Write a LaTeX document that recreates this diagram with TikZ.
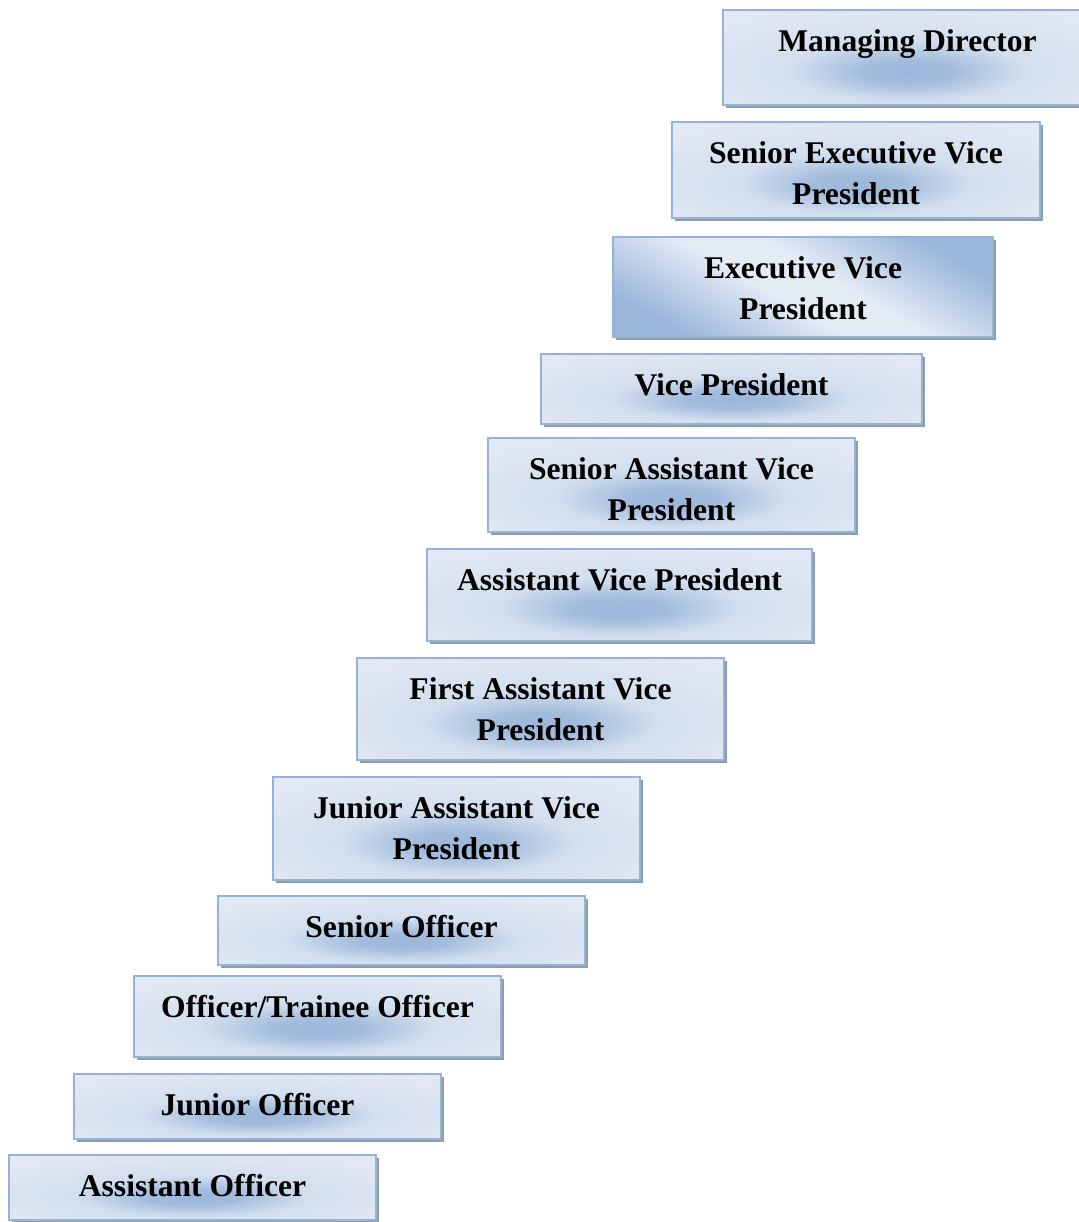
\documentclass[tikz,border=0pt]{standalone}
\usepackage{fontspec}
\setmainfont{Liberation Serif}
\usetikzlibrary{shadows}
\definecolor{edgeblue}{HTML}{95B3D7}
\definecolor{shadowgray}{HTML}{8C9DB2}
\definecolor{lightfill}{HTML}{E9EEF7}
\definecolor{midfill}{HTML}{D3DFEE}
\definecolor{corefill}{HTML}{9AB6DA}
\pgfdeclareradialshading{boxshade}{\pgfpoint{0bp}{-8bp}}{%
  color(0bp)=(corefill); color(6bp)=(corefill!85!midfill); color(16bp)=(midfill);
  color(32bp)=(lightfill!60!midfill); color(50bp)=(lightfill); color(100bp)=(lightfill)}
\pgfdeclarehorizontalshading{diagshade}{100bp}{%
  color(0bp)=(corefill); color(25bp)=(corefill); color(45bp)=(lightfill!80!midfill);
  color(55bp)=(lightfill!80!midfill); color(75bp)=(corefill); color(100bp)=(corefill)}
\tikzset{
  stepbox/.style={draw=edgeblue, line width=1pt, shading=boxshade, inner sep=0pt,
    drop shadow={shadow xshift=1.5pt, shadow yshift=-1.5pt, fill=shadowgray, opacity=1}},
  diagbox/.style={stepbox, shading=diagshade, shading angle=60},
  steptext/.style={font=\fontsize{15.8}{20.5}\selectfont\bfseries, align=center,
    anchor=base, yshift=-21pt, inner sep=0pt},
  oneline/.style={},
  twoline/.style={yshift=-20.5pt}
}
\newcommand{\mkbox}[8]{%
  \node[#1, minimum width={(#6-#4)*0.5pt}, minimum height={(#7-#5)*0.5pt}]
    (#3) at ({(#4+#6)/2},{(#5+#7)/2}) {};
  \node[steptext, #2] (#3t) at (#3.north) {#8};
}
\begin{document}
\begin{tikzpicture}[x=0.5pt,y=-0.5pt]
\useasboundingbox (0,0) rectangle (1078,1222);
\mkbox{stepbox}{oneline}{md}{723}{10}{1092}{105}{Managing Director}
\mkbox{stepbox}{twoline}{sevp}{672}{122}{1040}{218}{Senior Executive Vice\\President}
\mkbox{diagbox}{twoline}{evp}{613}{237}{993}{337}{Executive Vice\\President}
\mkbox{stepbox}{oneline}{vp}{541}{354}{922}{424}{Vice President}
\mkbox{stepbox}{twoline}{savp}{488}{438}{855}{532}{Senior Assistant Vice\\President}
\mkbox{stepbox}{oneline}{avp}{427}{549}{812}{641}{Assistant Vice President}
\mkbox{stepbox}{twoline}{favp}{357}{658}{724}{760}{First Assistant Vice\\President}
\mkbox{stepbox}{twoline}{javp}{273}{777}{640}{880}{Junior Assistant Vice\\President}
\mkbox{stepbox}{oneline}{so}{218}{896}{585}{965}{Senior Officer}
\mkbox{stepbox}{oneline}{oto}{134}{976}{501}{1057}{Officer/Trainee Officer}
\mkbox{stepbox}{oneline}{jo}{74}{1074}{441}{1139}{Junior Officer}
\mkbox{stepbox}{oneline}{ao}{9}{1155}{376}{1220}{Assistant Officer}
\end{tikzpicture}
\end{document}
